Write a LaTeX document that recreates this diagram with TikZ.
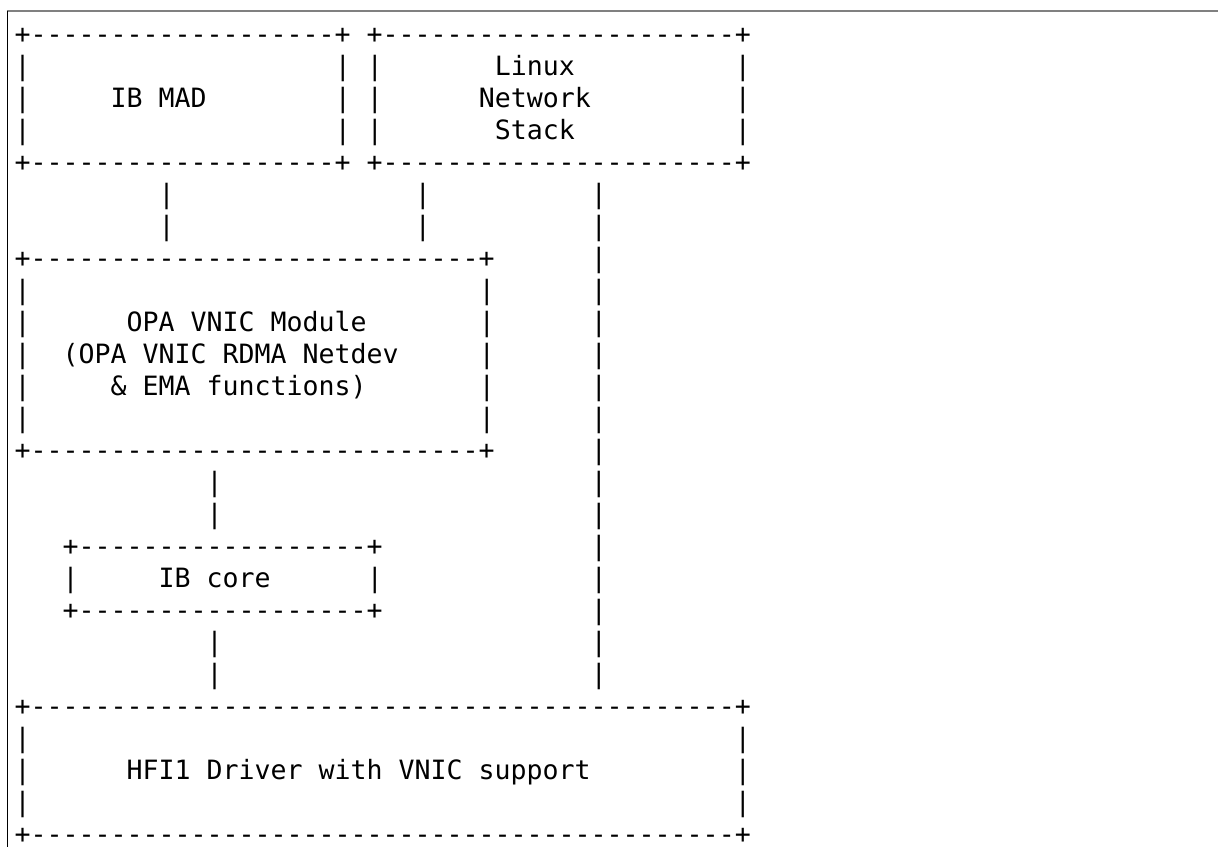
\documentclass[tikz,border=0pt]{standalone}
\usepackage{fontspec}
\setmonofont{DejaVu Sans Mono}
\ExplSyntaxOn
\cs_new:Npn \asciirep #1#2 { \prg_replicate:nn {#1} {#2} }
\ExplSyntaxOff
\newcommand{\dashes}[1]{\asciirep{#1}{-}}
\newcommand{\blanks}[1]{\asciirep{#1}{~}}

\begin{document}
\begin{tikzpicture}[x=1pt, y=-1pt,
  asciirow/.style={anchor=base west, inner sep=0pt, font=\ttfamily\fontsize{26.58}{32}\selectfont}]

\definecolor{framegray}{RGB}{128,128,128}

\useasboundingbox (0,0) rectangle (1218,847);

% frame of the code block
\draw[framegray, line width=2pt] (6.8,11) -- (1218,11);
\draw[black, line width=1pt] (7.3,11) -- (7.3,847);

% IB MAD / Linux Network Stack
\node[asciirow] (row1) at (14.5,43.3) {+\dashes{19}+~+\dashes{22}+};
\node[asciirow] (row2) at (14.5,75.3) {|\blanks{19}|~|\blanks{7}Linux\blanks{10}|};
\node[asciirow] (row3) at (14.5,107.3) {|\blanks{5}IB~MAD\blanks{8}|~|\blanks{6}Network\blanks{9}|};
\node[asciirow] (row4) at (14.5,139.3) {|\blanks{19}|~|\blanks{7}Stack\blanks{10}|};
\node[asciirow] (row5) at (14.5,171.3) {+\dashes{19}+~+\dashes{22}+};
\node[asciirow] (row6) at (14.5,203.3) {\blanks{9}|\blanks{15}|\blanks{10}|};
\node[asciirow] (row7) at (14.5,235.3) {\blanks{9}|\blanks{15}|\blanks{10}|};

% OPA VNIC Module
\node[asciirow] (row8) at (14.5,267.3) {+\dashes{28}+\blanks{6}|};
\node[asciirow] (row9) at (14.5,299.3) {|\blanks{28}|\blanks{6}|};
\node[asciirow] (row10) at (14.5,331.3) {|\blanks{6}OPA~VNIC~Module\blanks{7}|\blanks{6}|};
\node[asciirow] (row11) at (14.5,363.3) {|\blanks{2}(OPA~VNIC~RDMA~Netdev\blanks{5}|\blanks{6}|};
\node[asciirow] (row12) at (14.5,395.3) {|\blanks{5}\&~EMA~functions)\blanks{7}|\blanks{6}|};
\node[asciirow] (row13) at (14.5,427.3) {|\blanks{28}|\blanks{6}|};
\node[asciirow] (row14) at (14.5,459.3) {+\dashes{28}+\blanks{6}|};
\node[asciirow] (row15) at (14.5,491.3) {\blanks{12}|\blanks{23}|};
\node[asciirow] (row16) at (14.5,523.3) {\blanks{12}|\blanks{23}|};

% IB core
\node[asciirow] (row17) at (14.5,555.3) {\blanks{3}+\dashes{18}+\blanks{13}|};
\node[asciirow] (row18) at (14.5,587.3) {\blanks{3}|\blanks{5}IB~core\blanks{6}|\blanks{13}|};
\node[asciirow] (row19) at (14.5,619.3) {\blanks{3}+\dashes{18}+\blanks{13}|};
\node[asciirow] (row20) at (14.5,651.3) {\blanks{12}|\blanks{23}|};
\node[asciirow] (row21) at (14.5,683.3) {\blanks{12}|\blanks{23}|};

% HFI1 driver
\node[asciirow] (row22) at (14.5,715.3) {+\dashes{44}+};
\node[asciirow] (row23) at (14.5,747.3) {|\blanks{44}|};
\node[asciirow] (row24) at (14.5,779.3) {|\blanks{6}HFI1~Driver~with~VNIC~support\blanks{9}|};
\node[asciirow] (row25) at (14.5,811.3) {|\blanks{44}|};
\node[asciirow] (row26) at (14.5,843.3) {+\dashes{44}+};

\end{tikzpicture}
\end{document}
